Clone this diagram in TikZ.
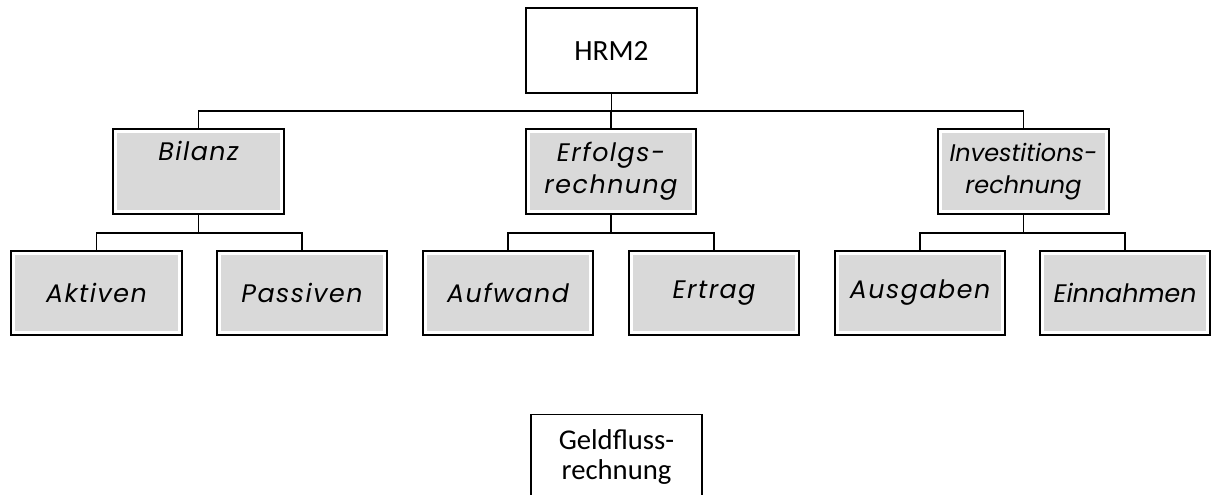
\documentclass[tikz,border=0pt]{standalone}
\usepackage{fontspec}
\setmainfont{Carlito}
\newfontfamily\gothic[LetterSpace=6]{Poppins}
\newfontfamily\gothicnarrow{Poppins}
\definecolor{boxgray}{HTML}{D9D9D9}
\tikzset{
  plainbox/.style={draw=black, line width=1.1pt, fill=white, minimum width=128pt, minimum height=63.75pt,
    inner sep=0pt, outer sep=0pt, align=center, font=\fontsize{20}{23}\selectfont},
  graybox/.style={draw=black, line width=1.6pt, fill=white, minimum width=128pt, minimum height=63.5pt,
    inner sep=0pt, outer sep=0pt, align=center, font=\gothic\itshape\fontsize{19}{24}\selectfont,
    path picture={\fill[boxgray] ([shift={(3.2pt,-3.2pt)}]path picture bounding box.north west)
      rectangle ([shift={(-3.2pt,3.2pt)}]path picture bounding box.south east);}},
  conn/.style={draw=black, line width=0.9pt}
}
\begin{document}
\begin{tikzpicture}[x=0.75pt,y=-0.75pt]
\clip (0,0) rectangle (1219,495);
\fill[white] (0,0) rectangle (1219,495);
\node[plainbox, font=\fontsize{22}{26}\selectfont] (hrm) at (611.5,50.5) {HRM2};
\node[graybox] (bil) at (198.5,171.5) {Bilanz\\\strut};
\node[graybox] (erf) at (611,171.5) {Erfolgs-\\rechnung};
\node[graybox, font=\gothicnarrow\itshape\fontsize{18}{24}\selectfont] (inv) at (1023.5,171.5) {Investitions-\\rechnung};
\node[graybox] (akt) at (96.5,293) {Aktiven};
\node[graybox] (pas) at (302,293) {Passiven};
\node[graybox] (auf) at (508,293) {Aufwand};
\node[graybox] (ert) at (714,293) {Ertrag};
\node[graybox] (aus) at (920,293) {Ausgaben};
\node[graybox, font=\gothicnarrow\itshape\fontsize{19}{24}\selectfont] (ein) at (1125,293) {Einnahmen};
\node[plainbox, font=\fontsize{21.5}{23}\selectfont] (geld) at (616.5,457) {Geldfluss-\\rechnung};
\coordinate (bus1) at (611,111);
\coordinate (bus2) at (0,233);
\draw[conn] (hrm.south) -- (hrm.south |- bus1);
\draw[conn] (bil.north) |- (inv.north |- bus1) -- (inv.north);
\draw[conn] (erf.north) -- (erf.north |- bus1);
\draw[conn] (bil.south) -- (bil.south |- bus2);
\draw[conn] (akt.north) |- (pas.north |- bus2) -- (pas.north);
\draw[conn] (erf.south) -- (erf.south |- bus2);
\draw[conn] (auf.north) |- (ert.north |- bus2) -- (ert.north);
\draw[conn] (inv.south) -- (inv.south |- bus2);
\draw[conn] (aus.north) |- (ein.north |- bus2) -- (ein.north);
\end{tikzpicture}
\end{document}
